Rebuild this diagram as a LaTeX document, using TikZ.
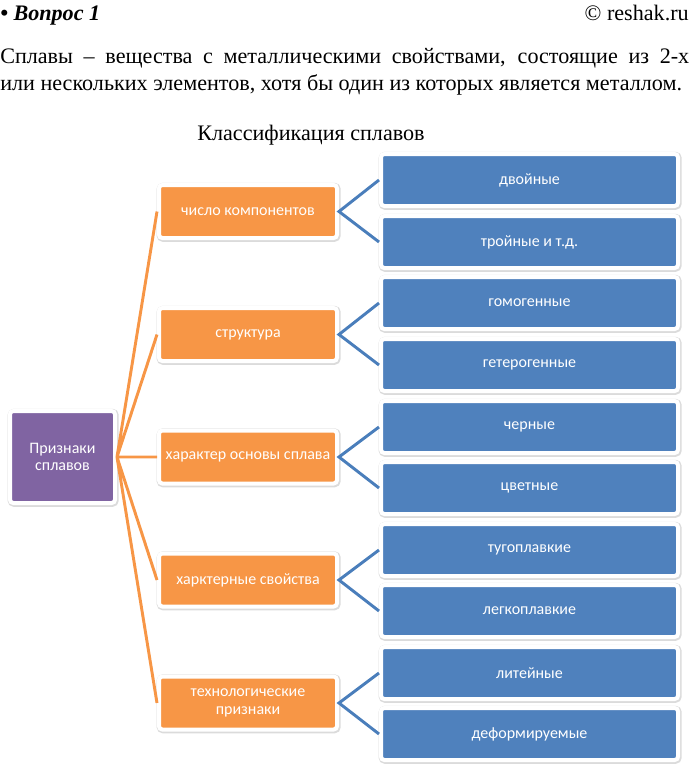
\documentclass[tikz,border=0pt]{standalone}
\usepackage{fontspec}
\setmainfont{Liberation Serif}
\newfontfamily\boxfont{Carlito}
\definecolor{orng}{HTML}{F79646}
\definecolor{blu}{HTML}{4F81BD}
\definecolor{purp}{HTML}{8064A2}
\definecolor{linkblue}{HTML}{4A7EBB}
\def\px{0.75pt}
\tikzstyle{every node}=[inner sep=0pt]
\tikzstyle{txt}=[font=\fontsize{16.6}{20}\selectfont, anchor=base west]
\tikzstyle{box}=[rounded corners=2.5pt, draw=white, line width=3pt, text=white, align=center,
	font=\boxfont\fontsize{12}{13}\selectfont,
	preaction={draw=black!14, line width=4.5pt, transform canvas={shift={(0.5pt,-0.6pt)}}}]
\tikzstyle{root}=[box, fill=purp, minimum width=105*\px, minimum height=92*\px]
\tikzstyle{crit}=[box, fill=orng, minimum width=178*\px, minimum height=53*\px]
\tikzstyle{kind}=[box, fill=blu, minimum width=297*\px, minimum height=52*\px]
\tikzstyle{olink}=[draw=orng, line width=2.2pt]
\tikzstyle{blink}=[draw=linkblue, line width=2.2pt]

\begin{document}
\begin{tikzpicture}[x=0.75pt, y=-0.75pt]
	\useasboundingbox (0,0) rectangle (689,768);
	% header and text
	\node[txt] (q) at (0,20) {\textbf{\textit{• Вопрос 1}}};
	\node[txt, anchor=base east] (site) at (689,20) {© reshak.ru};
	\node[txt] (l1) at (0,63) {\makebox[516.75pt][s]{Сплавы – вещества с металлическими свойствами, состоящие из 2-х}};
	\node[txt] (l2) at (0,90) {или нескольких элементов, хотя бы один из которых является металлом.};
	\node[txt, anchor=base] (title) at (311,140) {Классификация сплавов};

	% root
	\node[root] (r) at (62.5,457) {Признаки\\сплавов};

	% criteria
	\node[crit] (c1) at (248,211.5) {число компонентов};
	\node[crit] (c2) at (248,334.5) {структура};
	\node[crit] (c3) at (248,457) {характер основы сплава};
	\node[crit] (c4) at (248,580) {харктерные свойства};
	\node[crit] (c5) at (248,703) {технологические\\признаки};

	% kinds
	\node[kind] (k1) at (529.5,180) {двойные};
	\node[kind] (k2) at (529.5,242) {тройные и т.д.};
	\node[kind] (k3) at (529.5,303) {гомогенные};
	\node[kind] (k4) at (529.5,365) {гетерогенные};
	\node[kind] (k5) at (529.5,427) {черные};
	\node[kind] (k6) at (529.5,488) {цветные};
	\node[kind] (k7) at (529.5,550) {тугоплавкие};
	\node[kind] (k8) at (529.5,611) {легкоплавкие};
	\node[kind] (k9) at (529.5,673) {литейные};
	\node[kind] (k10) at (529.5,734) {деформируемые};

	% links
	\draw[olink] (r.east) -- (c1.west)
		(r.east) -- (c2.west)
		(r.east) -- (c3.west)
		(r.east) -- (c4.west)
		(r.east) -- (c5.west);
	\draw[blink] (k1.west) -- (c1.east) -- (k2.west)
		(k3.west) -- (c2.east) -- (k4.west)
		(k5.west) -- (c3.east) -- (k6.west)
		(k7.west) -- (c4.east) -- (k8.west)
		(k9.west) -- (c5.east) -- (k10.west);
\end{tikzpicture}
\end{document}
